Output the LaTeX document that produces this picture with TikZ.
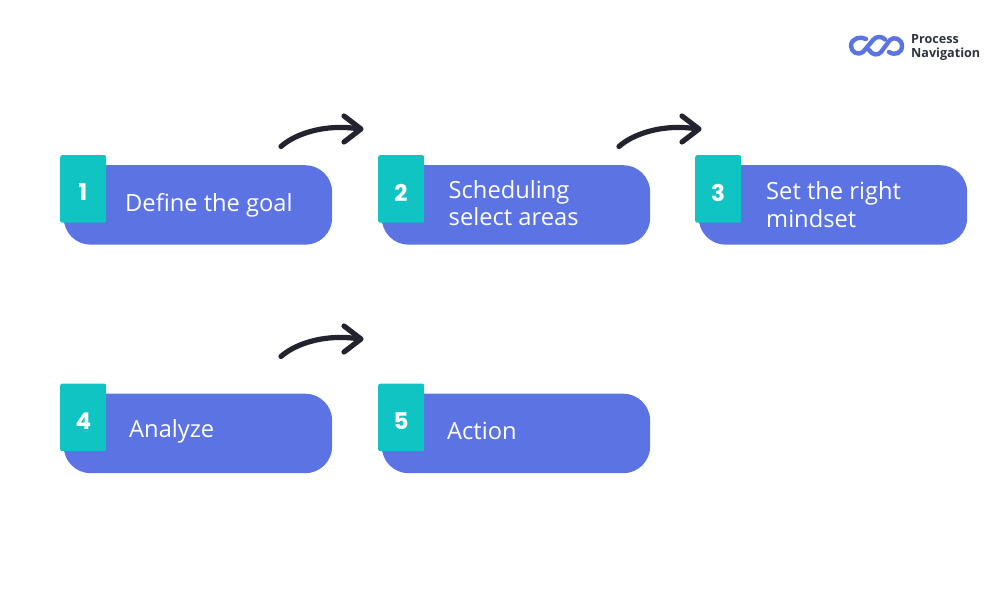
\documentclass[tikz,border=0pt]{standalone}
\usepackage{fontspec}
\setmainfont{Open Sans}
\newfontfamily\numfont{Poppins}
\usetikzlibrary{calc}
\definecolor{bluebox}{HTML}{5C73E3}
\definecolor{tealbox}{HTML}{11C4C4}
\definecolor{inkarrow}{HTML}{23232F}
\definecolor{logotext}{HTML}{2E3340}
\tikzset{
  x=1pt,y=-1pt,
  stepcard/.style={fill=bluebox,rounded corners=27pt,minimum width=268.5pt,minimum height=79.5pt,inner sep=0pt,anchor=north west},
  numbox/.style={fill=tealbox,rounded corners=2pt,minimum width=46pt,minimum height=67.5pt,inner sep=0pt,anchor=north west},
  numtext/.style={text=white,font=\fontsize{23}{23}\numfont\bfseries,inner sep=0pt},
  cardtext/.style={text=white,font=\fontsize{23.7}{27.5}\selectfont,inner sep=0pt,anchor=west,align=left},
  sketchline/.style={draw=inkarrow,line width=5.2pt,line cap=round,line join=round},
  logoline/.style={draw=bluebox,line width=4.4pt,line cap=round,line join=round},
}
\newcommand{\sketcharrow}[2]{%
  \draw[sketchline] (#1) .. controls +(12,-11) and +(-38,-6) .. ++(79,-17.5) coordinate (tip#2);
  \draw[sketchline] ($(tip#2)+(-16,-13)$) -- ($(tip#2)+(1,0)$) -- ($(tip#2)+(-16,13)$);
}
\begin{document}
\begin{tikzpicture}
\useasboundingbox (0,0) rectangle (1000,600);
\fill[white] (0,0) rectangle (1000,600);
% cards
\node[stepcard] (c1) at (63.5,165) {};
\node[stepcard] (c2) at (381.5,165) {};
\node[stepcard] (c3) at (698.5,165) {};
\node[stepcard] (c4) at (63.5,393.5) {};
\node[stepcard] (c5) at (381.5,393.5) {};
% number squares
\node[numbox] (n1) at (60,155) {};
\node[numbox] (n2) at (378,155) {};
\node[numbox] (n3) at (695,155) {};
\node[numbox] (n4) at (60,383.5) {};
\node[numbox] (n5) at (378,383.5) {};
\node[numtext] (d1) at (83,192) {1};
\node[numtext] (d2) at (401,193) {2};
\node[numtext] (d3) at (718,193) {3};
\node[numtext] (d4) at (83.5,421.5) {4};
\node[numtext] (d5) at (401,421.5) {5};
% labels
\node[cardtext] (t1) at (125,205) {Define the goal};
\node[cardtext] (t2) at (448.5,203) {Scheduling\\select areas};
\node[cardtext] (t3) at (766,204.5) {Set the right\\mindset};
\node[cardtext] (t4) at (129,431) {Analyze};
\node[cardtext] (t5) at (447,431) {Action};
% arrows
\coordinate (a1) at (281,146.5);
\coordinate (a2) at (619,146.5);
\coordinate (a3) at (281,356.5);
\sketcharrow{a1}{A}
\sketcharrow{a2}{B}
\sketcharrow{a3}{C}
% logo
\draw[logoline] (866,39) .. controls (861,36) and (851,38) .. (851,46) .. controls (851,52) and (858,56) .. (863,52) -- (873,40) .. controls (876,36) and (882,36) .. (885,39.5);
\draw[logoline] (869,50) .. controls (872,55) and (878,56) .. (881,52) -- (890,40) .. controls (894,36) and (902,39) .. (902,46) .. controls (902,53) and (895,56) .. (889,52);
\node[text=logotext,font=\fontsize{12.6}{13.2}\selectfont\bfseries,inner sep=0pt,anchor=west,align=left] (logo) at (911,47.5) {Process\\Navigation};
\end{tikzpicture}
\end{document}
